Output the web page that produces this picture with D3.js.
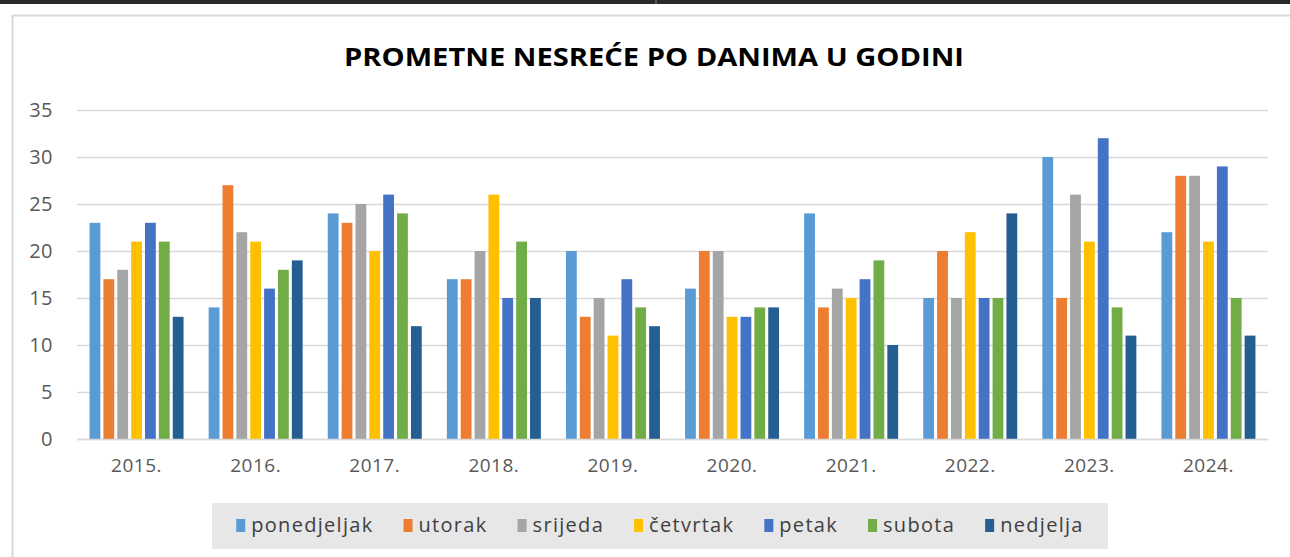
<!DOCTYPE html>
<html>
<head>
<meta charset="utf-8">
<script src="https://cdn.jsdelivr.net/npm/d3@7"></script>
<style>
  body { margin: 0; background: #fff; }
  svg { display: block; font-family: "Open Sans", "Noto Sans", sans-serif; }
</style>
</head>
<body>
<div id="chart"></div>
<script>
// data
var years = ["2015.", "2016.", "2017.", "2018.", "2019.", "2020.", "2021.", "2022.", "2023.", "2024."];
var days = ["ponedjeljak", "utorak", "srijeda", "četvrtak", "petak", "subota", "nedjelja"];
var ponedjeljak = [23, 14, 24, 17, 20, 16, 24, 15, 30, 22];
var utorak      = [17, 27, 23, 17, 13, 20, 14, 20, 15, 28];
var srijeda     = [18, 22, 25, 20, 15, 20, 16, 15, 26, 28];
var cetvrtak    = [21, 21, 20, 26, 11, 13, 15, 22, 21, 21];
var petak       = [23, 16, 26, 15, 17, 13, 17, 15, 32, 29];
var subota      = [21, 18, 24, 21, 14, 14, 19, 15, 14, 15];
var nedjelja    = [13, 19, 12, 15, 12, 14, 10, 24, 11, 11];
var yTicks = [0, 5, 10, 15, 20, 25, 30, 35];
var colors = ["#5B9BD5", "#ED7D31", "#A5A5A5", "#FFC000", "#4472C4", "#70AD47", "#255E91"];

var series = [ponedjeljak, utorak, srijeda, cetvrtak, petak, subota, nedjelja];

var svgWidth = 1290;
var svgHeight = 557;

var plot = { left: 77, right: 1268, top: 110, bottom: 439 };

var svg = d3.select("#chart")
  .append("svg")
  .attr("width", svgWidth)
  .attr("height", svgHeight);

// dark strip on top of the screenshot
svg.append("rect")
  .attr("x", 0).attr("y", 0)
  .attr("width", svgWidth).attr("height", 4)
  .attr("fill", "#2a2a2a");
svg.append("line")
  .attr("x1", 656).attr("x2", 656)
  .attr("y1", 0).attr("y2", 4)
  .attr("stroke", "#888");

// chart frame
svg.append("path")
  .attr("d", "M12.5,560 V15.5 H1290")
  .attr("fill", "none")
  .attr("stroke", "#d9d9d9")
  .attr("stroke-width", 2);

// title
svg.append("text")
  .attr("x", 654)
  .attr("y", 66)
  .attr("text-anchor", "middle")
  .attr("font-size", "25px")
  .attr("font-weight", "bold")
  .attr("fill", "#000")
  .attr("textLength", 620)
  .attr("lengthAdjust", "spacingAndGlyphs")
  .text("PROMETNE NESREĆE PO DANIMA U GODINI");

// scales
var x0 = d3.scaleBand()
  .domain(years)
  .range([plot.left, plot.right]);

var x1 = d3.scaleBand()
  .domain(days)
  .range([0, 94])
  .paddingInner(0.22);

var y = d3.scaleLinear()
  .domain([0, 35])
  .range([plot.bottom, plot.top]);

// gridlines
var yAxis = d3.axisLeft(y)
  .tickValues(yTicks)
  .tickSize(-(plot.right - plot.left))
  .tickPadding(24);

var yG = svg.append("g")
  .attr("transform", `translate(${plot.left}, 0)`)
  .call(yAxis);
yG.select(".domain").remove();
yG.selectAll(".tick line")
  .attr("stroke", "#d9d9d9")
  .attr("stroke-width", 1.5);
yG.selectAll(".tick text")
  .attr("fill", "#595959")
  .attr("font-size", "20px")
  .attr("letter-spacing", "0.5px")
  .attr("font-family", "Open Sans, sans-serif");

// bars
var groups = svg.selectAll("g.year")
  .data(years)
  .enter()
  .append("g")
  .attr("class", "year")
  .attr("transform", d => `translate(${x0(d) + (x0.bandwidth() - 94) / 2}, 0)`);

groups.selectAll("rect")
  .data((d, i) => days.map((day, j) => ({ day: day, value: series[j][i], color: colors[j] })))
  .enter()
  .append("rect")
  .attr("x", d => x1(d.day))
  .attr("y", d => y(d.value))
  .attr("width", x1.bandwidth())
  .attr("height", d => y(0) - y(d.value))
  .attr("fill", d => d.color);

// x axis
var xAxis = d3.axisBottom(x0).tickSize(0).tickPadding(20);
var xG = svg.append("g")
  .attr("transform", `translate(0, ${plot.bottom})`)
  .call(xAxis);
xG.select(".domain")
  .attr("stroke", "#d9d9d9")
  .attr("stroke-width", 1.5);
xG.selectAll(".tick text")
  .attr("fill", "#595959")
  .attr("font-size", "19px")
  .attr("letter-spacing", "0.5px")
  .attr("font-family", "Open Sans, sans-serif");

// legend
var legendBox = svg.append("rect")
  .attr("x", 212).attr("y", 503)
  .attr("width", 896).attr("height", 46)
  .attr("fill", "#e7e7e7");

var legend = svg.append("g");
var items = legend.selectAll("g")
  .data(days)
  .enter()
  .append("g");

items.append("rect")
  .attr("width", 9)
  .attr("height", 13)
  .attr("y", 519)
  .attr("fill", (d, i) => colors[i]);

items.append("text")
  .attr("x", 15)
  .attr("y", 532)
  .attr("font-size", "20px")
  .attr("letter-spacing", "1.3px")
  .attr("fill", "#404040")
  .text(d => d);

// lay items out one after another
var widths = [];
items.each(function() { widths.push(this.getBBox().width); });
var gap = 30;
var total = d3.sum(widths) + gap * (widths.length - 1);
var start = 212 + (896 - total) / 2;
items.attr("transform", function(d, i) {
  var xPos = start + d3.sum(widths.slice(0, i)) + gap * i;
  return `translate(${xPos}, 0)`;
});
</script>
</body>
</html>
